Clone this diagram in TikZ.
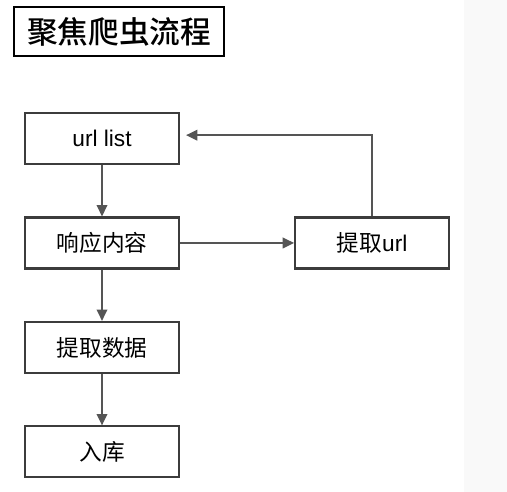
\documentclass[tikz,border=0pt]{standalone}
\usepackage{fontspec}
\setmainfont{Liberation Sans}
\newfontfamily\cjk{Noto Sans CJK SC}
\newfontfamily\cjkmed{Noto Sans CJK SC Medium}
\usetikzlibrary{positioning,arrows.meta}
\definecolor{boxline}{HTML}{3C3C3C}
\definecolor{arrline}{HTML}{555555}
\definecolor{sidebar}{HTML}{F9F9F9}

\begin{document}
\begin{tikzpicture}[
  x=0.75pt, y=-0.75pt,
  node distance=38.5pt and 85.5pt,
  every node/.style={font=\fontsize{17}{20}\selectfont},
  stepbox/.style={draw=boxline, line width=1.6pt, fill=white, inner sep=0pt,
                  minimum width=115.5pt, minimum height=38.25pt},
  arr/.style={-{Triangle[length=8.5pt,width=8pt]}, arrline, line width=1.1pt}
]
  % page and the grey strip on the right
  \fill[white] (0,0) rectangle (464,492);
  \fill[sidebar] (464,0) rectangle (507,492);
  \useasboundingbox (0,0) rectangle (507,492);

  % Title
  \node[draw=black, line width=1.2pt, minimum width=157.5pt, minimum height=36.75pt,
        font=\cjkmed\fontsize{23}{26}\selectfont] (title) at (119,31.5) {聚焦爬虫流程};

  % Main column
  \node[stepbox] (urls) at (102,138.5) {url list};
  \node[stepbox, below=of urls] (resp) {{\cjk 响应内容}};
  \node[stepbox, below=of resp] (data) {{\cjk 提取数据}};
  \node[stepbox, below=of data] (store) {{\cjk 入库}};

  % Side branch
  \node[stepbox, right=of resp] (links) {{\cjk 提取}url};

  % Arrows
  \draw[arr] (urls) -- (resp);
  \draw[arr] (resp) -- (data);
  \draw[arr] (data) -- (store);
  \draw[arr] (resp) -- (links);
  \draw[arr, shorten >=4.5pt] (links.north) |- ([yshift=2.5pt]urls.east);
\end{tikzpicture}
\end{document}
